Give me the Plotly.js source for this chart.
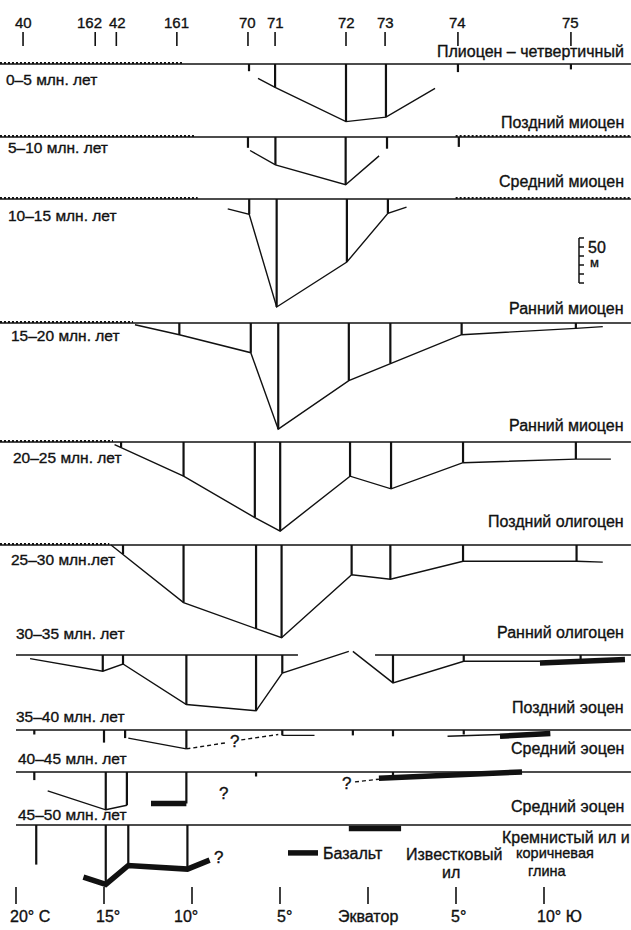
<!DOCTYPE html>
<html>
<head>
<meta charset="utf-8">
<script src="https://cdn.plot.ly/plotly-3.0.1.min.js"></script>
<style>
  body { margin: 0; background: #fff; }
  #chart { width: 631px; height: 930px; }
  #chart svg text { stroke: #111; stroke-width: 0.35px; }
</style>
</head>
<body>
<div id="chart"></div>
<script>
const W = 631, H = 930;
const EQ_PX = 368, PX_PER_DEG = 17.6;   // x axis: latitude, south positive
const PX_PER_M = 0.9;                   // y axis: metres of sediment

// drill sites, present-day latitude
const siteNames = ['40', '162', '42', '161', '70', '71', '72', '73', '74', '75'];
const siteLatNow = [-19.6, -15.5, -14.3, -10.86, -6.82, -5.28, -1.25, 0.97, 5.11, 11.53];

const intervals = ['0–5 млн. лет', '5–10 млн. лет', '10–15 млн. лет', '15–20 млн. лет', '20–25 млн. лет',
  '25–30 млн.лет', '30–35 млн. лет', '35–40 млн. лет', '40–45 млн. лет', '45–50 млн. лет'];
const epochs = ['Плиоцен – четвертичный', 'Поздний миоцен', 'Средний миоцен', 'Ранний миоцен', 'Ранний миоцен',
  'Поздний олигоцен', 'Ранний олигоцен', 'Поздний эоцен', 'Средний эоцен', 'Средний эоцен'];

// backtracked site latitude and sediment thickness (m) per interval
const siteLat = [
  [-6.76, -5.28, -1.25, 1.02, 5.11, 11.53],
  [-6.82, -5.26, -1.27, 1.08, 5.16],
  [-6.75, -5.19, -1.2, 1.13],
  [-10.72, -6.66, -5.1, -1.09, 1.27, 5.32, 11.81],
  [-14.03, -10.48, -6.43, -4.99, -1.02, 1.31, 5.4, 11.81],
  [-13.92, -10.48, -6.36, -4.91, -0.93, 1.27, 5.4, 11.85],
  [-15.07, -13.92, -10.32, -6.36, -4.87, 1.42, 5.44, 12.08],
  [-18.96, -15.0, -13.8, -10.32, -4.87, -0.86, 1.42, 5.44],
  [-18.96, -14.9, -13.7, -10.32, -6.36, 1.42],
  [-18.85, -14.9, -13.62, -10.26]
];
const siteThk = [
  [8, 26, 64, 59, 9, 6],
  [12, 31, 53, 13, 11],
  [17, 120, 70, 16],
  [13, 33, 118, 64, 45, 13, 6],
  [6, 38, 84, 99, 38, 52, 23, 19],
  [10, 64, 93, 103, 33, 38, 18, 18],
  [18, 10, 55, 62, 20, 31, 7, 7],
  [5, 14, 9, 21, 6, 6, 7, 5],
  [9, 42, 37, 35, 5, 5],
  [44, 66, 44, 49]
];

// thickness profiles between sites (null = break)
const profLat = [
  [-6.25, -5.28, -1.25, 1.02, 3.81],
  [-6.7, -5.26, -1.27, 0.63],
  [-7.97, -6.75, -5.19, -1.2, 1.13, 2.19],
  [-13.24, -10.72, -6.66, -5.1, -1.09, 1.27, 5.32, 11.81, 13.34],
  [-14.4, -10.48, -6.43, -4.99, -1.02, 1.31, 5.4, 11.81, 13.8],
  [-14.6, -10.48, -6.36, -4.91, -0.93, 1.27, 5.4, 11.85, 13.34],
  [-19.2, -15.07, -13.92, -10.32, -6.36, -4.87, -1.09, null, -0.86, 1.42, 5.44, 9.77],
  [-13.62, -10.32, null, -4.87, -3.04, null, 4.52, 7.5],
  [-18.2, -14.9, -13.7],
  []
];
const profThk = [
  [16, 26, 64, 59, 27],
  [15, 31, 53, 21],
  [11, 17, 120, 70, 16, 9],
  [2, 13, 33, 118, 64, 45, 13, 6, 4],
  [3, 38, 84, 99, 38, 52, 23, 19, 19],
  [0, 64, 93, 103, 33, 38, 18, 18, 19],
  [4, 18, 10, 55, 62, 20, -4, null, -4, 31, 7, 7],
  [9, 21, null, 6, 6, null, 7, 5],
  [21, 42, 37],
  []
];

// uncertain (dashed) correlations
const dashLat = [[], [], [], [], [], [], [], [-10.32, -8.0, null, -7.2, -5.1], [-0.74, 0.62], []];
const dashThk = [[], [], [], [], [], [], [], [21, 14, null, 11, 5], [11, 8], []];

// basalt basement
const basaltLat = [[], [], [], [], [], [], [9.77, 14.6], [7.5, 10.36], [-12.33, -10.32, null, 0.62, 8.75],
  [-16.17, -14.9, -13.62, -10.26, -9.0, null, -1.09, 1.88]];
const basaltThk = [[], [], [], [], [], [], [9, 5], [7, 4], [35, 35, null, 7, 0],
  [58, 66, 45, 49, 39, null, 4, 4]];

// interval top (unconformity where wavy)
const baseLat = [
  [-20.91, 14.94], [-20.91, 14.94], [-20.91, 14.94], [-20.91, 14.94], [-20.91, 14.94],
  [-20.91, 14.94], [-20.0, -3.98, null, 0.4, 14.94], [-20.0, 14.94], [-20.0, 14.94], [-20.0, 14.94]
];
const wavyLat = [
  [-20.91, -10.51], [-20.91, -9.8, null, 4.98, 14.94], [-20.91, -9.68, null, 4.98, 14.94],
  [-20.91, -13.35], [-20.91, -14.49], [-20.91, -14.7], [], [], [], []
];

// question marks
const qBand = [7, 8, 8, 9];
const qLat = [-7.6, -8.2, -1.21, -8.5];
const qThk = [13, 24, 13, 36];

const latTicks = [-20, -15, -10, -5, 0, 5, 10];
const latLabels = ['20° С', '15°', '10°', '5°', 'Экватор', '5°', '10° Ю'];

// layout (pixel positions)
const bandBasePx = [64, 137, 199, 323, 442, 545, 655, 730, 772, 825];
const intervalLabelPx = [[4, 79], [6, 147], [6, 215], [9, 335], [11, 457], [9, 559], [14, 633], [14, 716], [16, 758], [16, 814]];
const epochLabelPx = [52, 122, 182, 308, 426, 521, 632, 707, 748, 806];
const siteLabelShift = [0, -6, 1, 0, 0, 0, 0, 0, 0, 0];
const latLabelShift = [14, 4, -6, 4, 0, 2, 15];

const INK = '#111';
const FONT = 'Liberation Sans, Arial, sans-serif';
const m = px => px / PX_PER_M;
const lat = px => (px - EQ_PX) / PX_PER_DEG;

const traces = [];
function addLine(xs, ys, line, extra) {
  traces.push(Object.assign({
    type: 'scatter', mode: 'lines', x: xs, y: ys, line: line,
    hoverinfo: 'skip', showlegend: false, connectgaps: false
  }, extra || {}));
}
function ticks(xs, y0, y1) {
  const X = [], Y = [];
  xs.forEach((x, i) => {
    X.push(x, x, null);
    Y.push(y0, Array.isArray(y1) ? y1[i] : y1, null);
  });
  return [X, Y];
}

intervals.forEach((_, i) => {
  const base = m(bandBasePx[i]);
  const atBase = arr => arr.map(v => v === null ? null : base);
  const depth = arr => arr.map(v => v === null ? null : base + v);

  addLine(baseLat[i], atBase(baseLat[i]), { color: INK, width: 1.5 });
  if (wavyLat[i].length) {
    addLine(wavyLat[i], atBase(wavyLat[i]).map(v => v === null ? null : v - 1 / PX_PER_M),
      { color: INK, width: 2, dash: '2px,2px' });
  }
  const [vx, vy] = ticks(siteLat[i], base, depth(siteThk[i]));
  addLine(vx, vy, { color: INK, width: 2.2 });
  if (profLat[i].length) addLine(profLat[i], depth(profThk[i]), { color: INK, width: 1.4 });
  if (dashLat[i].length) addLine(dashLat[i], depth(dashThk[i]), { color: INK, width: 1.4, dash: '4px,3px' });
  if (basaltLat[i].length) {
    addLine(basaltLat[i], depth(basaltThk[i]), { color: INK, width: 5.5 },
      i === intervals.length - 1 ? { name: 'Базальт', showlegend: true } : {});
  }
});

// site ticks (top) and latitude ticks (bottom)
let [tx, ty] = ticks(siteLatNow, m(32), m(46));
addLine(tx, ty, { color: INK, width: 1.6 });
[tx, ty] = ticks(latTicks, m(887), m(904));
addLine(tx, ty, { color: INK, width: 1.6 });

// 50 m scale bar
const scaleTop = m(238), scaleLat = lat(579);
const scaleSteps = [0, 10, 20, 30, 40, 50];
addLine([scaleLat, scaleLat], [scaleTop, scaleTop + 50], { color: INK, width: 1.5 });
const sx = [], sy = [];
scaleSteps.forEach(s => { sx.push(scaleLat, scaleLat + 5 / PX_PER_DEG, null); sy.push(scaleTop + s, scaleTop + s, null); });
addLine(sx, sy, { color: INK, width: 1.5 });

const font = (size) => ({ family: FONT, size: size, color: INK });
const annotations = [];
const pxText = (text, x, y, anchor, size) => annotations.push({
  text: text, x: x / W, y: 1 - y / H, xref: 'paper', yref: 'paper',
  xanchor: anchor, yanchor: 'middle', showarrow: false, font: font(size)
});

siteNames.forEach((s, i) => annotations.push({
  text: s, x: siteLatNow[i] + siteLabelShift[i] / PX_PER_DEG, y: m(22), xref: 'x', yref: 'y',
  showarrow: false, font: font(15)
}));
intervals.forEach((t, i) => pxText(t, intervalLabelPx[i][0], intervalLabelPx[i][1], 'left', 15.5));
epochs.forEach((t, i) => pxText(t, 626, epochLabelPx[i], 'right', 16));
pxText('Кремнистый ил и', 632, 837, 'right', 16);
pxText('Известковый', 454, 854, 'center', 16);
pxText('ил', 451, 872, 'center', 16);
pxText('коричневая', 555, 853, 'center', 14.5);
pxText('глина', 547, 871, 'center', 14.5);
pxText('50', 586, 248, 'left', 16);
pxText('м', 588, 263, 'left', 13);
latTicks.forEach((t, i) => annotations.push({
  text: latLabels[i], x: t + latLabelShift[i] / PX_PER_DEG, y: m(916), xref: 'x', yref: 'y',
  showarrow: false, font: font(16)
}));
qLat.forEach((q, i) => annotations.push({
  text: '?', x: q, y: m(bandBasePx[qBand[i]]) + qThk[i], xref: 'x', yref: 'y',
  showarrow: false, font: font(17)
}));

const layout = {
  width: W, height: H,
  margin: { l: 0, r: 0, t: 0, b: 0 },
  paper_bgcolor: '#fff', plot_bgcolor: '#fff',
  xaxis: { range: [lat(0), lat(W)], visible: false, fixedrange: true },
  yaxis: { range: [m(H), 0], visible: false, fixedrange: true },
  showlegend: true,
  legend: {
    x: 283 / W, xanchor: 'left', y: 1 - 853 / H, yanchor: 'middle',
    bgcolor: 'rgba(0,0,0,0)', font: font(16), itemwidth: 30
  },
  annotations: annotations
};

Plotly.newPlot('chart', traces, layout, { displayModeBar: false, staticPlot: true });
</script>
</body>
</html>
